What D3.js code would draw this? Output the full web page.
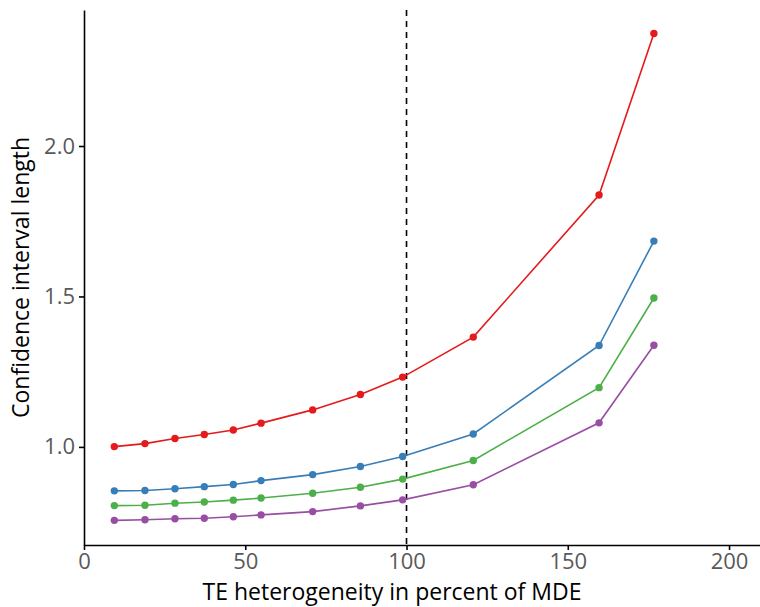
<!DOCTYPE html>
<html>
<head>
<meta charset="utf-8">
<script src="https://cdn.jsdelivr.net/npm/d3@7"></script>
<style>
body{margin:0;background:#fff;}
text{font-family:"Open Sans",sans-serif;}
</style>
</head>
<body>
<div id="chart"></div>
<script>
// data
var xVals = [9.4, 18.9, 28.2, 37.3, 46.3, 54.9, 70.9, 85.7, 98.8, 120.7, 159.7, 176.7]
var redVals = [1.001, 1.011, 1.028, 1.041, 1.056, 1.079, 1.123, 1.174, 1.232, 1.365, 1.837, 2.374]
var blueVals = [0.854, 0.855, 0.861, 0.868, 0.875, 0.888, 0.908, 0.935, 0.968, 1.043, 1.337, 1.684]
var greenVals = [0.805, 0.806, 0.813, 0.817, 0.823, 0.830, 0.846, 0.866, 0.893, 0.955, 1.197, 1.495]
var purpleVals = [0.756, 0.758, 0.761, 0.763, 0.768, 0.774, 0.785, 0.804, 0.824, 0.874, 1.080, 1.338]
var seriesColors = ["#E41A1C", "#377EB8", "#4DAF4A", "#984EA3"]
var xTicks = [0, 50, 100, 150, 200]
var yTicks = [1.0, 1.5, 2.0]
var refLine = 100

var width = 760, height = 607
var mLeft = 84, mRight = 760, mTop = 10, mBottom = 545

var svg = d3.select("#chart").append("svg")
    .attr("width", width)
    .attr("height", height)

var x = d3.scaleLinear().domain([0, 209.6]).range([mLeft, mRight])
var y = d3.scaleLinear().domain([0.674, 2.452]).range([mBottom, mTop])

var allSeries = [redVals, blueVals, greenVals, purpleVals]

// dashed line
svg.append("line")
    .attr("x1", x(refLine)).attr("x2", x(refLine))
    .attr("y1", mTop).attr("y2", mBottom)
    .attr("stroke", "black")
    .attr("stroke-width", 1.6)
    .attr("stroke-dasharray", "6,5")

var line = d3.line()
    .x((d, i) => x(xVals[i]))
    .y(d => y(d))

allSeries.forEach((s, k) => {
    svg.append("path")
        .datum(s)
        .attr("d", line)
        .attr("fill", "none")
        .attr("stroke", seriesColors[k])
        .attr("stroke-width", 1.6)
    svg.selectAll("circle.s" + k)
        .data(s)
        .enter()
        .append("circle")
        .attr("class", "s" + k)
        .attr("cx", (d, i) => x(xVals[i]))
        .attr("cy", d => y(d))
        .attr("r", 3.7)
        .attr("fill", seriesColors[k])
})

// axes
var xAxis = svg.append("g")
    .attr("transform", "translate(0," + mBottom + ")")
    .call(d3.axisBottom(x).tickValues(xTicks).tickSize(5).tickSizeOuter(0).tickPadding(3).tickFormat(d3.format("d")))
var yAxis = svg.append("g")
    .attr("transform", "translate(" + mLeft + ",0)")
    .call(d3.axisLeft(y).tickValues(yTicks).tickSize(5).tickSizeOuter(0).tickPadding(4).tickFormat(d3.format(".1f")))

;[xAxis, yAxis].forEach(g => {
    g.select(".domain").attr("stroke", "black").attr("stroke-width", 1.6)
    g.selectAll(".tick line").attr("stroke", "black").attr("stroke-width", 1.6)
    g.selectAll(".tick text").attr("fill", "#595959").style("font-size", "22px").attr("font-family", null)
})

svg.append("text")
    .attr("x", 392)
    .attr("y", 600)
    .attr("text-anchor", "middle")
    .style("font-size", "23px")
    .text("TE heterogeneity in percent of MDE")

svg.append("text")
    .attr("transform", "translate(29," + ((mTop + mBottom) / 2) + ") rotate(-90)")
    .attr("text-anchor", "middle")
    .style("font-size", "23px")
    .text("Confidence interval length")
</script>
</body>
</html>
